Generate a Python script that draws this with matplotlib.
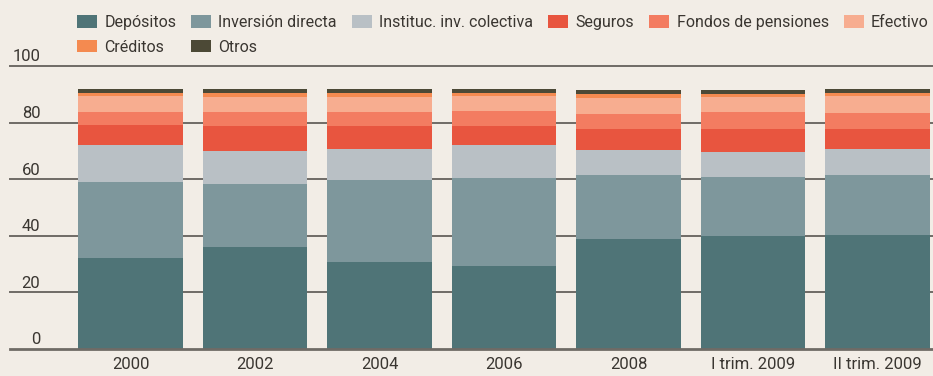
import matplotlib.pyplot as plt
from matplotlib.patches import Patch
from matplotlib.transforms import blended_transform_factory
import numpy as np

# ================ Data ================
periods = ['2000', '2002', '2004', '2006', '2008', 'I trim. 2009', 'II trim. 2009']

depositos = [32.0, 36.1, 30.8, 29.4, 38.7, 40.0, 40.2]
inversion_directa = [27.1, 22.2, 28.9, 30.9, 22.8, 20.9, 21.3]
instituc_inv = [12.8, 11.8, 11.0, 11.8, 8.8, 8.8, 9.0]
seguros = [7.3, 8.8, 7.9, 6.8, 7.4, 8.0, 7.2]
fondos_pensiones = [4.7, 4.8, 5.1, 5.3, 5.4, 6.0, 5.6]
efectivo = [5.5, 5.5, 5.5, 5.2, 5.5, 5.5, 6.1]
creditos = [1.0, 1.4, 1.4, 1.2, 1.5, 1.0, 1.0]
otros = [1.4, 1.2, 1.2, 1.2, 1.5, 1.4, 1.4]

series_names = ['Depósitos', 'Inversión directa', 'Instituc. inv. colectiva', 'Seguros',
                'Fondos de pensiones', 'Efectivo', 'Créditos', 'Otros']
series_values = [depositos, inversion_directa, instituc_inv, seguros,
                 fondos_pensiones, efectivo, creditos, otros]
series_colors = ['#4f7477', '#7e979c', '#b9c0c5', '#e8553f',
                 '#f37c61', '#f7ad90', '#f48a50', '#4c4936']

y_ticks = [0, 20, 40, 60, 80, 100]

# ================ Style ================
BG = '#f2ede6'
TEXT = '#3a3631'
GRID = '#6f6b66'
plt.rcParams['font.family'] = ['Roboto', 'DejaVu Sans']
plt.rcParams['font.size'] = 12

fig = plt.figure(figsize=(9.33, 3.76), dpi=100, facecolor=BG)
ax = fig.add_axes([10 / 933, 27.3 / 376, 923 / 933, 282.7 / 376])
ax.set_facecolor(BG)

x = np.arange(len(periods))
bottom = np.zeros(len(periods))
for name, vals, color in zip(series_names, series_values, series_colors):
    vals = np.array(vals)
    ax.bar(x, vals, width=0.84, bottom=bottom, color=color, label=name,
           zorder=3, linewidth=0)
    bottom += vals

ax.set_xlim(-0.968, 6.446)
ax.set_ylim(0, 100)

# gridlines and y labels sitting above the lines
for t in y_ticks:
    lw = 2.0 if t == 0 else 1.4
    ax.axhline(t, color=GRID, lw=lw, zorder=1 if t else 4, clip_on=False)
trans = blended_transform_factory(ax.transAxes, ax.transData)
for t in y_ticks:
    ax.text(0.033, t + 1.6, str(t), transform=trans, ha='right', va='baseline',
            color=TEXT, clip_on=False)

ax.set_yticks([])
ax.set_xticks(x)
ax.set_xticklabels(periods, color=TEXT)
ax.tick_params(axis='x', length=0, pad=6)
for s in ax.spines.values():
    s.set_visible(False)

# legend: order so Créditos sits under Depósitos and Otros under Inversión
order = [0, 6, 1, 7, 2, 3, 4, 5]
handles = [Patch(facecolor=series_colors[i], edgecolor='none') for i in order]
labels = [series_names[i] for i in order]
fig.legend(handles, labels, ncol=6, loc='upper left',
           bbox_to_anchor=(77 / 933, 1 - 15 / 376), frameon=False,
           fontsize=11.5, handlelength=1.25, handleheight=0.85, handletextpad=0.45,
           columnspacing=0.95, labelspacing=0.6, borderpad=0, borderaxespad=0,
           labelcolor=TEXT)

fig.savefig('out.png', dpi=100, facecolor=BG)
